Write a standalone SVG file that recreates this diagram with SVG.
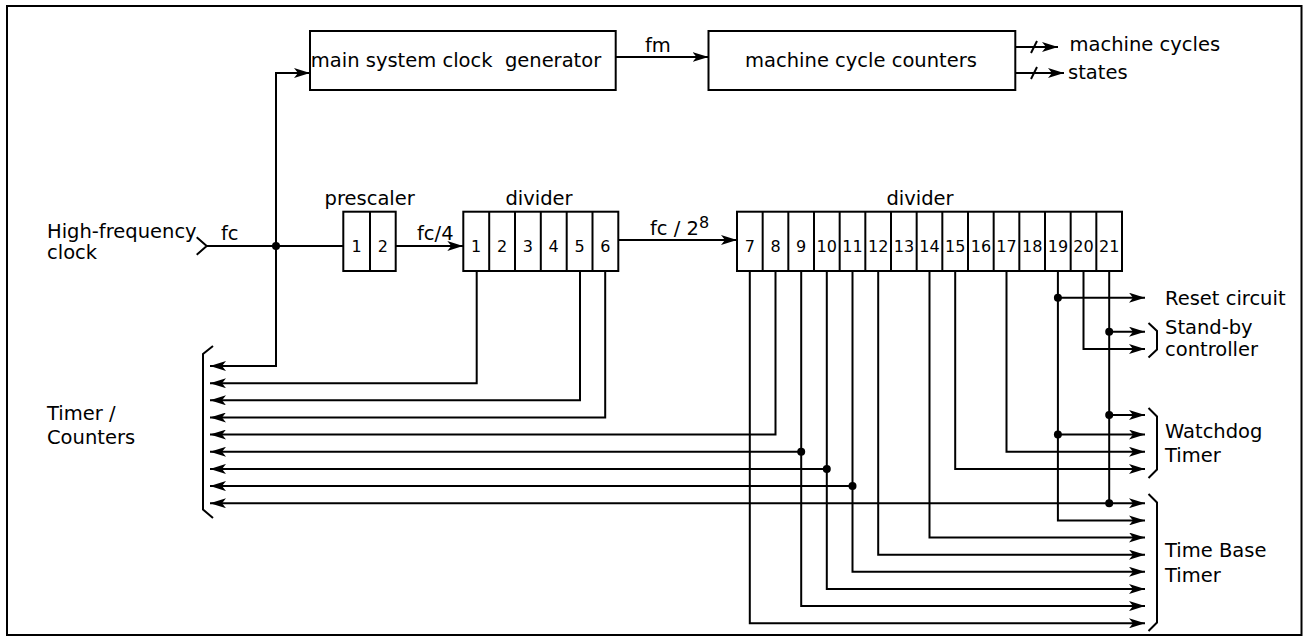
<svg xmlns="http://www.w3.org/2000/svg" width="1307" height="638" viewBox="0 0 1307 638">
<style>
.box{fill:none;stroke:#000;stroke-width:2}
.w{fill:none;stroke:#000;stroke-width:2}
.a{marker-end:url(#ah)}
.dot{fill:#000}
.t{font-family:"DejaVu Sans","Liberation Sans",sans-serif;font-size:19.5px;fill:#000}
.m{text-anchor:middle}
.n{font-family:"DejaVu Sans","Liberation Sans",sans-serif;font-size:16px;fill:#000;text-anchor:middle}
</style>
<defs>
<marker id="ah" markerUnits="userSpaceOnUse" viewBox="0 0 16 10" markerWidth="16" markerHeight="10" refX="16" refY="5" orient="auto">
<path d="M0,0 L16,5 L0,10 L4,5 Z" fill="#000"/>
</marker>
</defs>
<rect width="1307" height="638" fill="#fff"/>
<rect id="frame" x="7" y="6" width="1294.5" height="629" class="box"/>

<g id="hf-clock">
<text class="t" x="47" y="238">High-frequency</text>
<text class="t" x="47" y="259">clock</text>
<polyline class="w" points="196.7,237.3 206.7,246 196.7,254.7"/>
</g>

<g id="main-clock-generator">
<rect class="box" x="310" y="31" width="305.7" height="59"/>
<text class="t m" x="456" y="67" xml:space="preserve">main system clock  generator</text>
</g>

<g id="machine-cycle-counters">
<rect class="box" x="708.5" y="31" width="306.8" height="59"/>
<text class="t m" x="861" y="67">machine cycle counters</text>
</g>

<g id="prescaler">
<text class="t m" x="369.7" y="205">prescaler</text>
<rect class="box" x="343.3" y="211.7" width="52.4" height="59.3"/>
<line class="w" x1="370" y1="211.7" x2="370" y2="271"/>
<text class="n" x="356.7" y="252">1</text>
<text class="n" x="382.8" y="252">2</text>
</g>

<g id="divider-1">
<text class="t m" x="539" y="205">divider</text>
<rect class="box" x="463.3" y="211.7" width="155" height="59.3"/>
<path class="w" d="M489.2,211.7V271M515,211.7V271M540.8,211.7V271M566.7,211.7V271M592.5,211.7V271"/>
<text class="n" x="476.2" y="252">1</text>
<text class="n" x="502.1" y="252">2</text>
<text class="n" x="527.9" y="252">3</text>
<text class="n" x="553.7" y="252">4</text>
<text class="n" x="579.6" y="252">5</text>
<text class="n" x="605.4" y="252">6</text>
</g>

<g id="divider-2">
<text class="t m" x="920" y="205">divider</text>
<rect class="box" x="737" y="211.7" width="385" height="59.3"/>
<path class="w" d="M762.67,211.7V271M788.33,211.7V271M814,211.7V271M839.67,211.7V271M865.33,211.7V271M891,211.7V271M916.67,211.7V271M942.33,211.7V271M968,211.7V271M993.67,211.7V271M1019.33,211.7V271M1045,211.7V271M1070.67,211.7V271M1096.33,211.7V271"/>
<text class="n" x="749.8" y="252">7</text>
<text class="n" x="775.5" y="252">8</text>
<text class="n" x="801.2" y="252">9</text>
<text class="n" x="826.8" y="252">10</text>
<text class="n" x="852.5" y="252">11</text>
<text class="n" x="878.2" y="252">12</text>
<text class="n" x="903.9" y="252">13</text>
<text class="n" x="929.5" y="252">14</text>
<text class="n" x="955.2" y="252">15</text>
<text class="n" x="980.9" y="252">16</text>
<text class="n" x="1006.5" y="252">17</text>
<text class="n" x="1032.2" y="252">18</text>
<text class="n" x="1057.9" y="252">19</text>
<text class="n" x="1083.5" y="252">20</text>
<text class="n" x="1109.2" y="252">21</text>
</g>

<g id="timer-counters">
<polyline class="w" points="213,346 203,354 203,509.5 213,518"/>
<text class="t" x="47" y="420">Timer /</text>
<text class="t" x="47" y="444">Counters</text>
</g>

<g id="reset-circuit">
<text class="t" x="1165" y="305">Reset circuit</text>
</g>

<g id="standby-controller">
<polyline class="w" points="1148.5,323 1157,331 1157,349.5 1148.5,357.5"/>
<text class="t" x="1165" y="334">Stand-by</text>
<text class="t" x="1165" y="356">controller</text>
</g>

<g id="watchdog-timer">
<polyline class="w" points="1148.5,408 1157,416.5 1157,469.5 1148.5,478"/>
<text class="t" x="1165" y="438">Watchdog</text>
<text class="t" x="1165" y="462">Timer</text>
</g>

<g id="time-base-timer">
<polyline class="w" points="1148.5,494 1157,502.5 1157,622.5 1148.5,631"/>
<text class="t" x="1165" y="557">Time Base</text>
<text class="t" x="1165" y="582">Timer</text>
</g>

<g id="outputs">
<text class="t" x="1069.5" y="51">machine cycles</text>
<text class="t" x="1068" y="79">states</text>
</g>

<g id="connectors">
<text class="t" x="221" y="240">fc</text>
<text class="t" x="417" y="240">fc/4</text>
<text class="t" x="645" y="52">fm</text>
<text class="t" x="650" y="235">fc / 2<tspan font-size="16px" dy="-7">8</tspan></text>

<line class="w" x1="206.7" y1="246" x2="343.3" y2="246"/>
<path class="w a" d="M276,246V73H310"/>
<path class="w a" d="M276,246V366H210"/>
<circle class="dot" cx="276" cy="246" r="4"/>
<path class="w a" d="M395.7,246H463.3"/>
<path class="w a" d="M618.3,240H737"/>
<path class="w a" d="M615.7,57H708.5"/>
<path class="w a" d="M1015.3,47H1058"/>
<path class="w a" d="M1015.3,73H1064"/>
<line class="w" x1="1031" y1="53" x2="1037" y2="41"/>
<line class="w" x1="1031" y1="79" x2="1037" y2="67"/>

<path class="w a" d="M476.7,271V383.2H210"/>
<path class="w a" d="M580,271V400.3H210"/>
<path class="w a" d="M605.2,271V417.5H210"/>

<path class="w a" d="M749.8,271V623.3H1145"/>
<path class="w a" d="M775.5,271V434.6H210"/>
<path class="w a" d="M801.2,271V606.1H1145"/>
<path class="w a" d="M801.2,451.8H210"/>
<circle class="dot" cx="801.2" cy="451.8" r="4"/>
<path class="w a" d="M826.8,271V589H1145"/>
<path class="w a" d="M826.8,468.9H210"/>
<circle class="dot" cx="826.8" cy="468.9" r="4"/>
<path class="w a" d="M852.5,271V571.8H1145"/>
<path class="w a" d="M852.5,486.1H210"/>
<circle class="dot" cx="852.5" cy="486.1" r="4"/>
<path class="w a" d="M878.2,271V554.7H1145"/>
<path class="w a" d="M929.5,271V537.5H1145"/>
<path class="w a" d="M955.2,271V469H1145"/>
<path class="w a" d="M1006.5,271V451.8H1145"/>
<path class="w a" d="M1057.9,271V520.4H1145"/>
<path class="w a" d="M1057.9,297.7H1145"/>
<circle class="dot" cx="1057.9" cy="297.7" r="4"/>
<path class="w a" d="M1057.9,434.6H1145"/>
<circle class="dot" cx="1057.9" cy="434.6" r="4"/>
<path class="w a" d="M1083.5,271V349H1145"/>
<path class="w" d="M1109.2,271V503.2"/>
<path class="w a" d="M1109.2,331.7H1145"/>
<circle class="dot" cx="1109.2" cy="331.7" r="4"/>
<path class="w a" d="M1109.2,415H1145"/>
<circle class="dot" cx="1109.2" cy="415" r="4"/>
<path class="w a" d="M1109.2,503.2H1145"/>
<path class="w a" d="M1109.2,503.2H210"/>
<circle class="dot" cx="1109.2" cy="503.2" r="4"/>
</g>
</svg>
